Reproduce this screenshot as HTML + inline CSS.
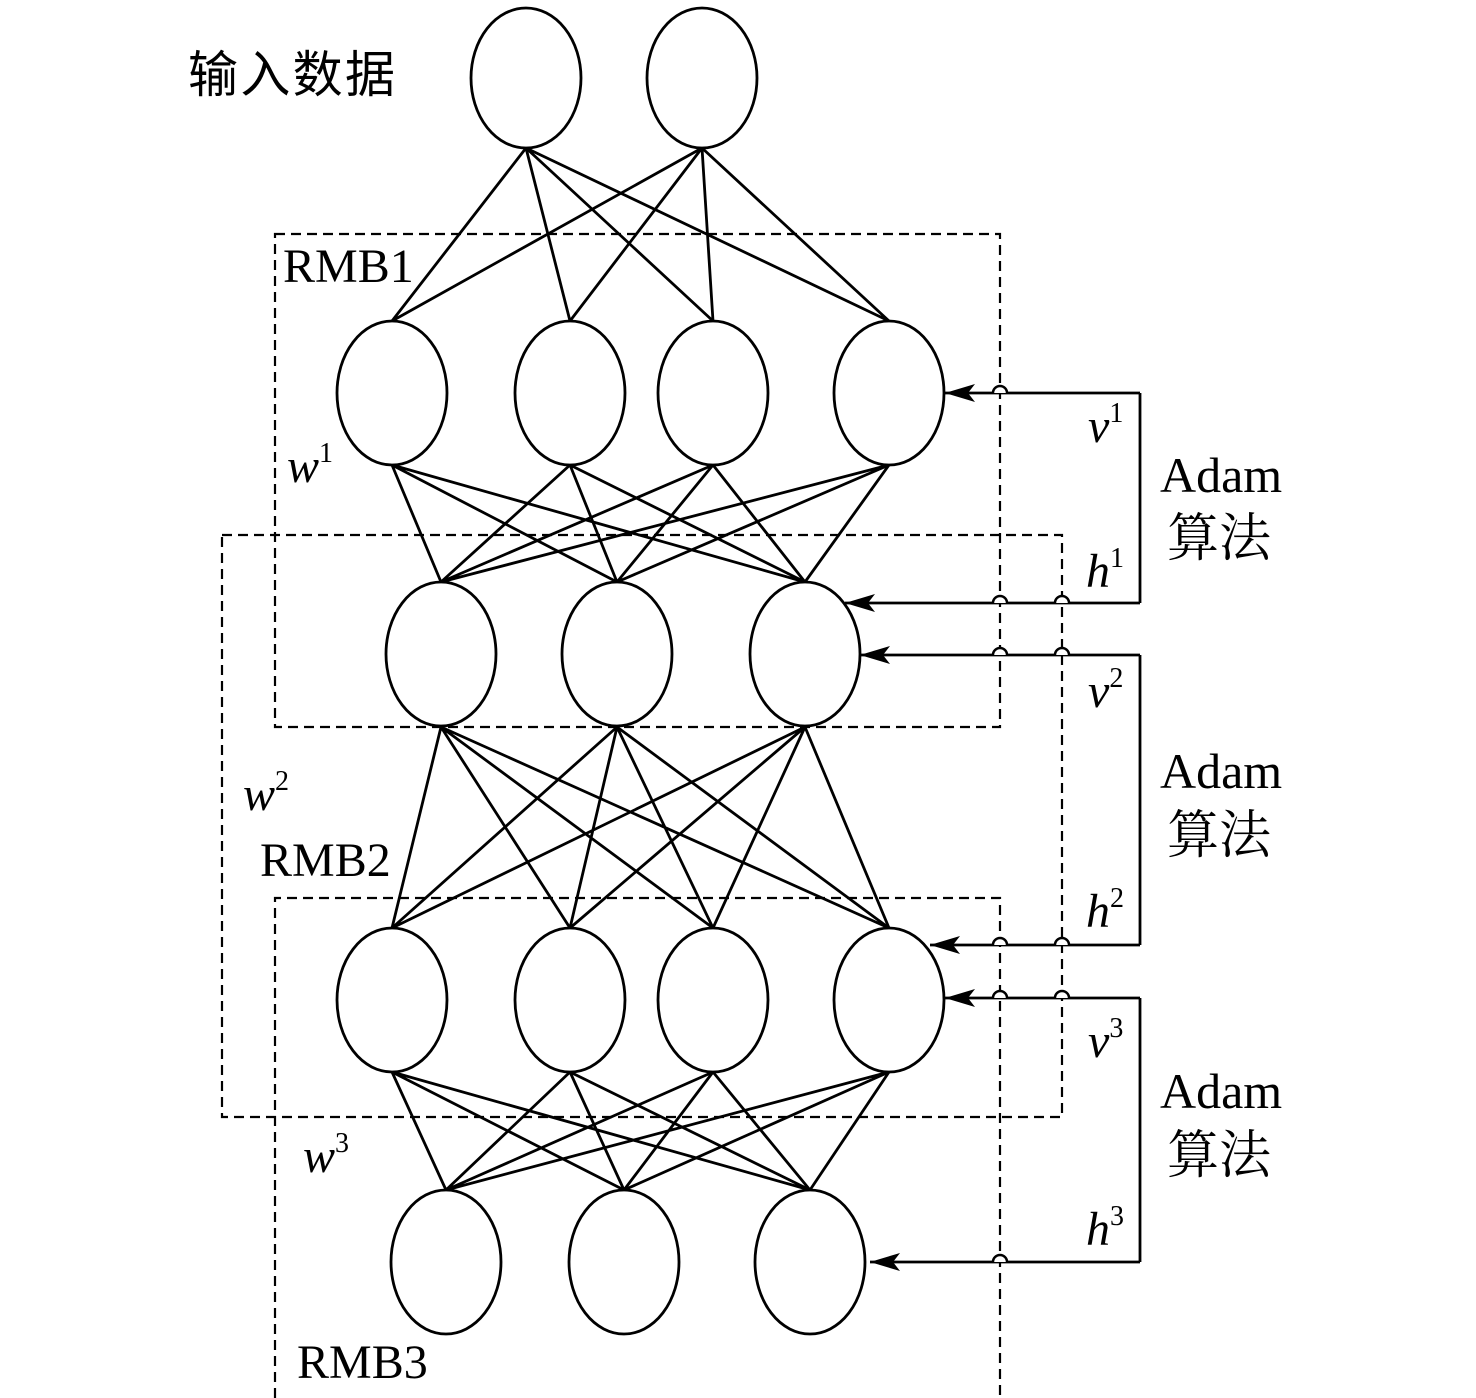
<!DOCTYPE html>
<html><head><meta charset="utf-8"><style>html,body{margin:0;padding:0;background:#fff}svg{display:block}</style></head>
<body>
<svg width="1476" height="1398" viewBox="0 0 1476 1398" xmlns="http://www.w3.org/2000/svg">
<defs>
<marker id="ar" viewBox="0 0 30 20" refX="30" refY="10" markerWidth="30" markerHeight="20" markerUnits="userSpaceOnUse" orient="auto"><path d="M0,1 L30,10 L0,19 L7,10 z" fill="#000"/></marker></defs>
<g stroke="#000" stroke-width="2.8" fill="none">
<path d="M526,148 L392,321 M526,148 L570,321 M526,148 L713,321 M526,148 L889,321 M702,148 L392,321 M702,148 L570,321 M702,148 L713,321 M702,148 L889,321"/>
<path d="M392,465 L441,582 M392,465 L617,582 M392,465 L805,582 M570,465 L441,582 M570,465 L617,582 M570,465 L805,582 M713,465 L441,582 M713,465 L617,582 M713,465 L805,582 M889,465 L441,582 M889,465 L617,582 M889,465 L805,582"/>
<path d="M441,727 L392,928 M441,727 L570,928 M441,727 L713,928 M441,727 L889,928 M617,727 L392,928 M617,727 L570,928 M617,727 L713,928 M617,727 L889,928 M805,727 L392,928 M805,727 L570,928 M805,727 L713,928 M805,727 L889,928"/>
<path d="M392,1072 L446,1190 M392,1072 L624,1190 M392,1072 L810,1190 M570,1072 L446,1190 M570,1072 L624,1190 M570,1072 L810,1190 M713,1072 L446,1190 M713,1072 L624,1190 M713,1072 L810,1190 M889,1072 L446,1190 M889,1072 L624,1190 M889,1072 L810,1190"/>
<g fill="#fff">
<ellipse cx="526" cy="78" rx="55" ry="70"/><ellipse cx="702" cy="78" rx="55" ry="70"/>
<ellipse cx="392" cy="393" rx="55" ry="72"/><ellipse cx="570" cy="393" rx="55" ry="72"/><ellipse cx="713" cy="393" rx="55" ry="72"/><ellipse cx="889" cy="393" rx="55" ry="72"/>
<ellipse cx="441" cy="654" rx="55" ry="72"/><ellipse cx="617" cy="654" rx="55" ry="72"/><ellipse cx="805" cy="654" rx="55" ry="72"/>
<ellipse cx="392" cy="1000" rx="55" ry="72"/><ellipse cx="570" cy="1000" rx="55" ry="72"/><ellipse cx="713" cy="1000" rx="55" ry="72"/><ellipse cx="889" cy="1000" rx="55" ry="72"/>
<ellipse cx="446" cy="1262" rx="55" ry="72"/><ellipse cx="624" cy="1262" rx="55" ry="72"/><ellipse cx="810" cy="1262" rx="55" ry="72"/>
</g>
<g stroke-dasharray="10,6" stroke-width="2.2">
<path d="M275,234 H1000 V727 H275 Z"/>
<path d="M222,535 H1062 V1117 H222 Z"/>
<path d="M275,1398 V898 H1000 V1398"/>
</g>
<path d="M1140,393 H945" marker-end="url(#ar)"/>
<path d="M1140,393 V603"/>
<path d="M1140,603 H845" marker-end="url(#ar)"/>
<path d="M1140,655 H860" marker-end="url(#ar)"/>
<path d="M1140,655 V945"/>
<path d="M1140,945 H930" marker-end="url(#ar)"/>
<path d="M1140,998 H945" marker-end="url(#ar)"/>
<path d="M1140,998 V1262"/>
<path d="M1140,1262 H870" marker-end="url(#ar)"/>
</g>
<g stroke="#000" stroke-width="2.5" fill="#fff">
<path d="M993,393 A7,7 0 0 1 1007,393"/>
<path d="M993,603 A7,7 0 0 1 1007,603"/><path d="M1055,603 A7,7 0 0 1 1069,603"/>
<path d="M993,655 A7,7 0 0 1 1007,655"/><path d="M1055,655 A7,7 0 0 1 1069,655"/>
<path d="M993,945 A7,7 0 0 1 1007,945"/><path d="M1055,945 A7,7 0 0 1 1069,945"/>
<path d="M993,998 A7,7 0 0 1 1007,998"/><path d="M1055,998 A7,7 0 0 1 1069,998"/>
<path d="M993,1262 A7,7 0 0 1 1007,1262"/>
</g>
<g font-family="'Liberation Serif','Noto Serif CJK SC',serif" font-size="48" fill="#000">
<text x="188" y="92" font-family="'Liberation Sans','Noto Sans CJK SC',sans-serif" font-size="50" textLength="207">输入数据</text>
<text x="283" y="282">RMB1</text>
<text x="260" y="876">RMB2</text>
<text x="297" y="1378">RMB3</text>
<g font-style="italic">
<text x="287" y="482">w<tspan font-size="28" font-style="normal" dy="-20">1</tspan></text>
<text x="243" y="810">w<tspan font-size="28" font-style="normal" dy="-20">2</tspan></text>
<text x="303" y="1172">w<tspan font-size="28" font-style="normal" dy="-20">3</tspan></text>
<text x="1088" y="442">v<tspan font-size="28" font-style="normal" dy="-20">1</tspan></text>
<text x="1086" y="587">h<tspan font-size="28" font-style="normal" dy="-20">1</tspan></text>
<text x="1088" y="707">v<tspan font-size="28" font-style="normal" dy="-20">2</tspan></text>
<text x="1086" y="927">h<tspan font-size="28" font-style="normal" dy="-20">2</tspan></text>
<text x="1088" y="1057">v<tspan font-size="28" font-style="normal" dy="-20">3</tspan></text>
<text x="1086" y="1245">h<tspan font-size="28" font-style="normal" dy="-20">3</tspan></text>
</g>
<text x="1160" y="492" font-size="50">Adam</text>
<text x="1167" y="556" font-size="52">算法</text>
<text x="1160" y="788" font-size="50">Adam</text>
<text x="1167" y="853" font-size="52">算法</text>
<text x="1160" y="1108" font-size="50">Adam</text>
<text x="1167" y="1173" font-size="52">算法</text>
</g>
</svg>
</body></html>
